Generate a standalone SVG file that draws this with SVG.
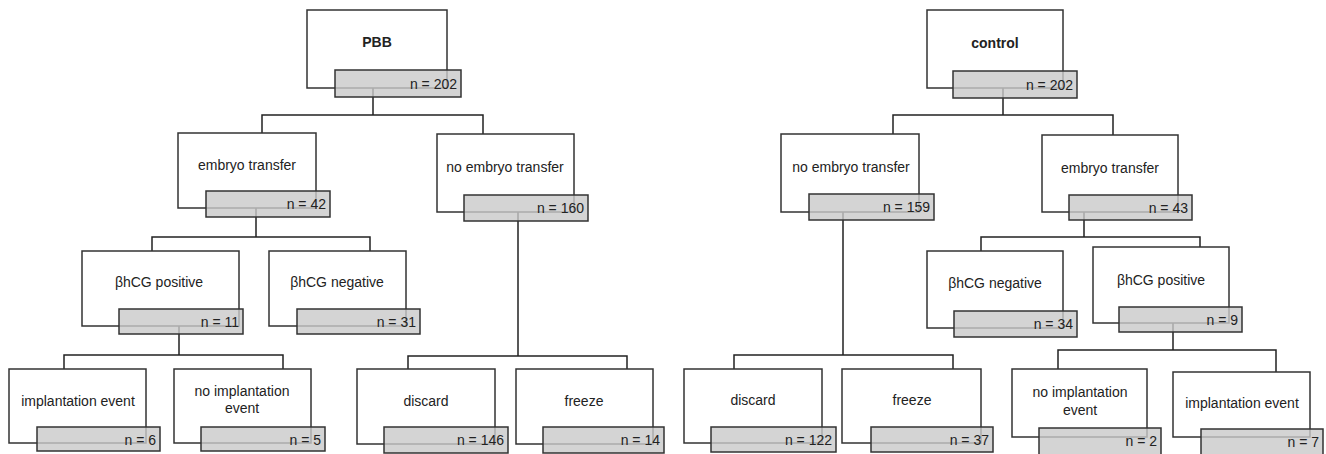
<svg xmlns="http://www.w3.org/2000/svg" width="1326" height="454" viewBox="0 0 1326 454">
<style>
.w{fill:#fff;stroke:#333;stroke-width:1.5}
.g{fill:#c9c9c9;fill-opacity:0.8;stroke:#333;stroke-width:1.5}
.t{font-family:"Liberation Sans",Arial,sans-serif;font-size:14px;fill:#222;text-anchor:middle}
.b{font-weight:bold}
.n{font-family:"Liberation Sans",Arial,sans-serif;font-size:14px;fill:#222;text-anchor:end}
.c{fill:none;stroke:#222;stroke-width:1.5}
</style>
<rect width="1326" height="454" fill="#fff"/>
<g id="connectors">
<path class="c" d="M373 88V115M262 133V115H483V134"/>
<path class="c" d="M256 208V237M152 251V237H370V251"/>
<path class="c" d="M518 212V356M408 369V356H627V369"/>
<path class="c" d="M179 326V355M64 369V355H283V369"/>
<path class="c" d="M1003 88V115M893 134V115H1113V135"/>
<path class="c" d="M843 212V355M734 369V355H953V369"/>
<path class="c" d="M1084 212V237M981 251V237H1200V247"/>
<path class="c" d="M1173 323V350M1058 369V350H1276V372"/>
</g>
<g id="pbb">
<rect class="w" x="307" y="10" width="140" height="78"/>
<text class="t b" x="377" y="47">PBB</text>
<rect class="g" x="335" y="70" width="126" height="27"/>
<text class="n" x="457" y="88.5">n = 202</text>
</g>
<g id="embryo-transfer-l">
<rect class="w" x="178" y="133" width="138" height="75"/>
<text class="t" x="247" y="170">embryo transfer</text>
<rect class="g" x="206" y="191" width="124" height="26"/>
<text class="n" x="326" y="209">n = 42</text>
</g>
<g id="no-embryo-transfer-l">
<rect class="w" x="437" y="134" width="137" height="78"/>
<text class="t" x="505" y="172">no embryo transfer</text>
<rect class="g" x="464" y="195" width="124" height="26"/>
<text class="n" x="584" y="213">n = 160</text>
</g>
<g id="bhcg-positive-l">
<rect class="w" x="82" y="251" width="157" height="75"/>
<text class="t" x="159" y="287">βhCG positive</text>
<rect class="g" x="119" y="309" width="124" height="25"/>
<text class="n" x="239" y="327">n = 11</text>
</g>
<g id="bhcg-negative-l">
<rect class="w" x="269" y="251" width="137" height="75"/>
<text class="t" x="337" y="287">βhCG negative</text>
<rect class="g" x="297" y="309" width="123" height="25"/>
<text class="n" x="416" y="327">n = 31</text>
</g>
<g id="implantation-l">
<rect class="w" x="9" y="369" width="137" height="74"/>
<text class="t" x="78" y="406">implantation event</text>
<rect class="g" x="37" y="427" width="123" height="24"/>
<text class="n" x="156" y="445">n = 6</text>
</g>
<g id="no-implantation-l">
<rect class="w" x="174" y="369" width="137" height="74"/>
<text class="t" x="242" y="396">no implantation</text>
<text class="t" x="242" y="413">event</text>
<rect class="g" x="201" y="427" width="124" height="24"/>
<text class="n" x="321" y="445">n = 5</text>
</g>
<g id="discard-l">
<rect class="w" x="357" y="369" width="138" height="75"/>
<text class="t" x="426" y="406">discard</text>
<rect class="g" x="384" y="427" width="124" height="26"/>
<text class="n" x="504" y="445">n = 146</text>
</g>
<g id="freeze-l">
<rect class="w" x="516" y="369" width="137" height="75"/>
<text class="t" x="584" y="406">freeze</text>
<rect class="g" x="543" y="427" width="121" height="26"/>
<text class="n" x="660" y="445">n = 14</text>
</g>
<g id="control">
<rect class="w" x="927" y="10" width="136" height="78"/>
<text class="t b" x="995" y="48">control</text>
<rect class="g" x="953" y="71" width="124" height="27"/>
<text class="n" x="1073" y="89.5">n = 202</text>
</g>
<g id="no-embryo-transfer-r">
<rect class="w" x="781" y="134" width="138" height="78"/>
<text class="t" x="851" y="172">no embryo transfer</text>
<rect class="g" x="809" y="194" width="125" height="26"/>
<text class="n" x="930" y="212">n = 159</text>
</g>
<g id="embryo-transfer-r">
<rect class="w" x="1042" y="135" width="136" height="77"/>
<text class="t" x="1110" y="173">embryo transfer</text>
<rect class="g" x="1069" y="195" width="123" height="25"/>
<text class="n" x="1188" y="213">n = 43</text>
</g>
<g id="bhcg-negative-r">
<rect class="w" x="927" y="251" width="136" height="77"/>
<text class="t" x="995" y="288">βhCG negative</text>
<rect class="g" x="954" y="311" width="123" height="26"/>
<text class="n" x="1073" y="329">n = 34</text>
</g>
<g id="bhcg-positive-r">
<rect class="w" x="1093" y="247" width="136" height="76"/>
<text class="t" x="1161" y="285">βhCG positive</text>
<rect class="g" x="1119" y="307" width="123" height="25"/>
<text class="n" x="1238" y="325">n = 9</text>
</g>
<g id="discard-r">
<rect class="w" x="684" y="369" width="138" height="74"/>
<text class="t" x="753" y="405">discard</text>
<rect class="g" x="711" y="427" width="125" height="25"/>
<text class="n" x="832" y="445">n = 122</text>
</g>
<g id="freeze-r">
<rect class="w" x="842" y="369" width="139" height="74"/>
<text class="t" x="912" y="405">freeze</text>
<rect class="g" x="871" y="427" width="122" height="25"/>
<text class="n" x="989" y="445">n = 37</text>
</g>
<g id="no-implantation-r">
<rect class="w" x="1012" y="369" width="135" height="68"/>
<text class="t" x="1080" y="397">no implantation</text>
<text class="t" x="1080" y="415">event</text>
<rect class="g" x="1039" y="428" width="122" height="28"/>
<text class="n" x="1157" y="446">n = 2</text>
</g>
<g id="implantation-r">
<rect class="w" x="1173" y="372" width="137" height="65"/>
<text class="t" x="1242" y="408">implantation event</text>
<rect class="g" x="1201" y="429" width="122" height="27"/>
<text class="n" x="1319" y="447">n = 7</text>
</g>
</svg>
